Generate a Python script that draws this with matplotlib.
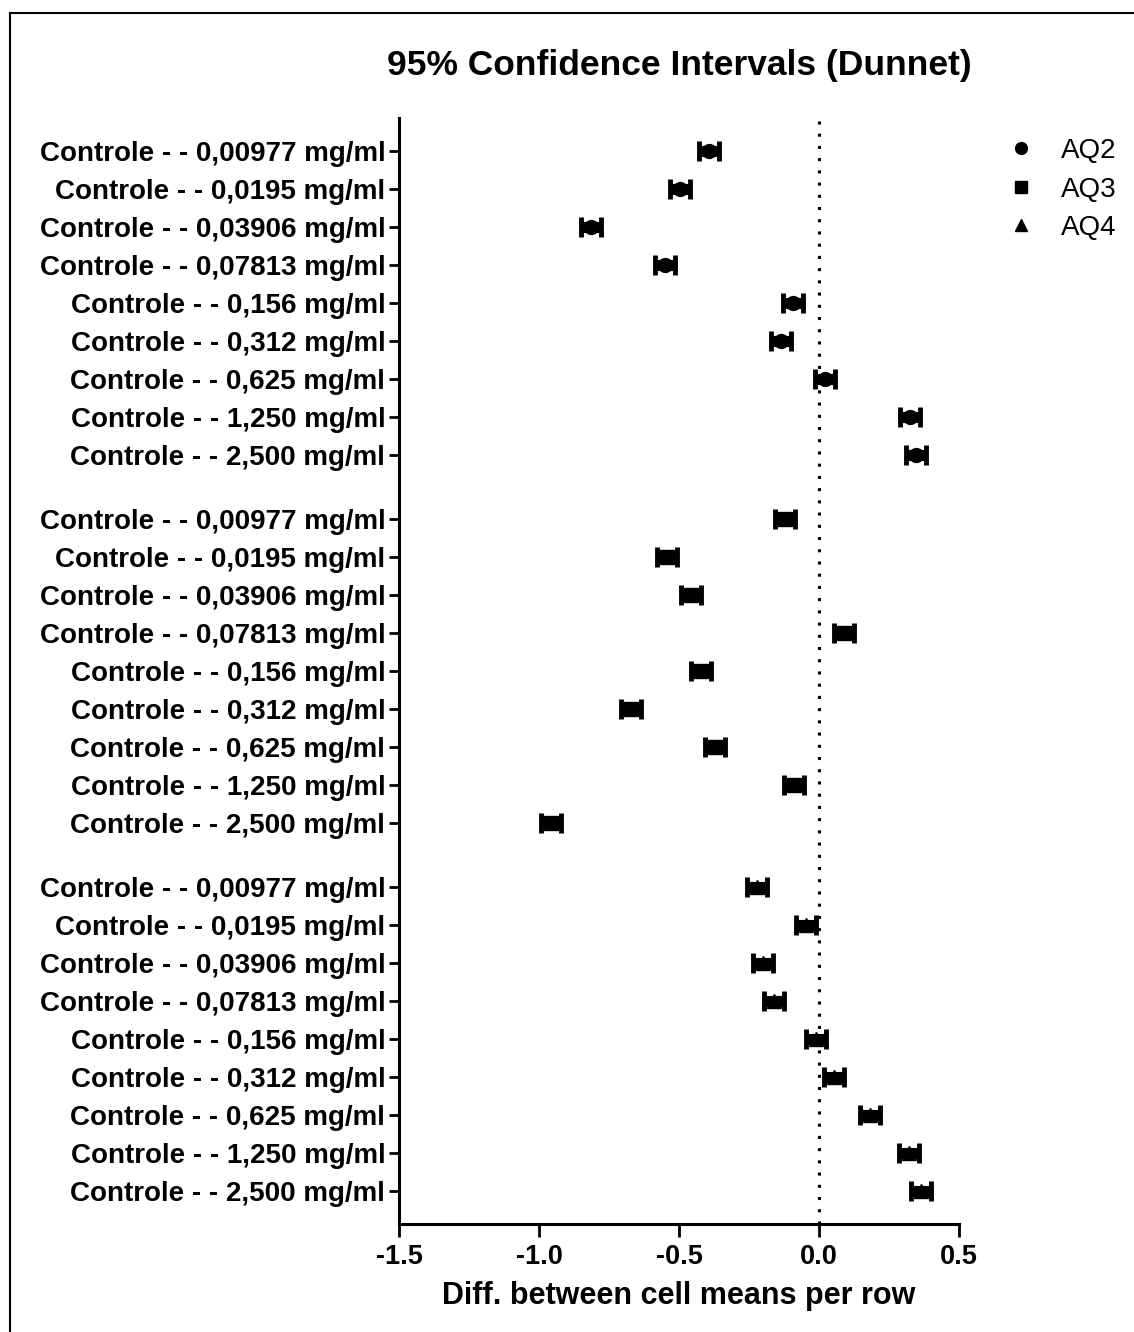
import matplotlib.pyplot as plt
from matplotlib.lines import Line2D

plt.rcParams['font.family'] = ['Liberation Sans', 'DejaVu Sans']

# Comparisons (same for each of the three groups)
concs = ['0,00977', '0,0195', '0,03906', '0,07813', '0,156',
         '0,312', '0,625', '1,250', '2,500']
labels = ['Controle - - %s mg/ml' % c for c in concs]

series = ['AQ2', 'AQ3', 'AQ4']
markers = ['o', 's', '^']

# mean differences
aq2 = [-0.393, -0.496, -0.814, -0.550, -0.093, -0.136, 0.021, 0.325, 0.346]
aq3 = [-0.121, -0.543, -0.457, 0.089, -0.421, -0.671, -0.371, -0.089, -0.957]
aq4 = [-0.221, -0.046, -0.200, -0.161, -0.011, 0.054, 0.182, 0.321, 0.364]
# approximate half-widths of the 95% CI
ci_aq2 = [0.035] * 9
ci_aq3 = [0.035] * 9
ci_aq4 = [0.035] * 9

groups = [aq2, aq3, aq4]
cis = [ci_aq2, ci_aq3, ci_aq4]

fig = plt.figure(figsize=(11.34, 13.32), dpi=100)
ax = fig.add_axes([0.352, 0.081, 0.4937, 0.8303])

gap = 26 / 38
ypos_all = []
lab_all = []
for g, (vals, ci, mk) in enumerate(zip(groups, cis, markers)):
    ys = [g * (9 + gap) + i for i in range(9)]
    ax.errorbar(vals, ys, xerr=ci, fmt=mk, color='black', markersize=10,
                elinewidth=8, capsize=7, capthick=3.5, zorder=3)
    ypos_all += ys
    lab_all += labels

ax.axvline(0, color='black', linestyle=(0, (1, 3)), linewidth=2.2, zorder=1)

ax.set_yticks(ypos_all)
ax.set_yticklabels(lab_all, fontsize=20, fontweight='bold')
ax.set_ylim(ypos_all[-1] + 0.87, -0.87)
ax.set_xlim(-1.5, 0.5)
ax.set_xticks([-1.5, -1.0, -0.5, 0.0, 0.5])
ax.set_xticklabels(['-1.5', '-1.0', '-0.5', '0.0', '0.5'], fontsize=19.5, fontweight='bold')
ax.set_xlabel('Diff. between cell means per row', fontsize=22, fontweight='bold', labelpad=8)
ax.set_title('95% Confidence Intervals (Dunnet)', fontsize=25.5, fontweight='bold', pad=31)

for s in ['top', 'right']:
    ax.spines[s].set_visible(False)
for s in ['left', 'bottom']:
    ax.spines[s].set_linewidth(2.2)
ax.tick_params(axis='y', length=7, width=2, pad=3)
ax.tick_params(axis='x', length=9, width=2, pad=5)

handles = [Line2D([], [], marker=m, color='black', linestyle='none', markersize=8.5)
           for m in markers]
fig.legend(handles, series, loc='upper left', bbox_to_anchor=(0.86, 0.915),
           frameon=False, fontsize=20, handletextpad=0.7, labelspacing=0.45,
           handlelength=1.5)

# frame lines on the left and top edges of the image
fig.add_artist(Line2D([0.009, 0.009], [0, 0.99], transform=fig.transFigure,
                      color='black', linewidth=1.5))
fig.add_artist(Line2D([0.009, 1.0], [0.99, 0.99], transform=fig.transFigure,
                      color='black', linewidth=1.5))

fig.savefig('out.png', dpi=100, facecolor='white')
